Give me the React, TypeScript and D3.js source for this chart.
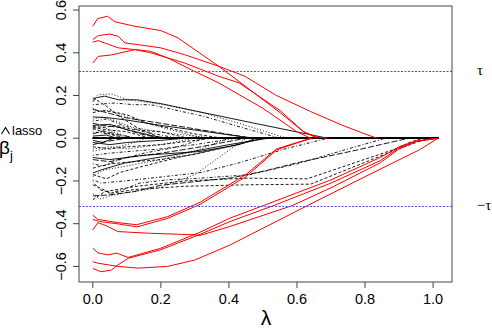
import * as d3 from "d3";
import { useEffect, useRef } from "react";

const W = 492;
const H = 328;
const LMAX = 1.015;
const xTicks = [0, 0.2, 0.4, 0.6, 0.8, 1.0];
const yTicks = [-0.6, -0.4, -0.2, 0, 0.2, 0.4, 0.6];
const tau = 0.316;

// selected coefficients (red): [lambda, beta] knots
const redPaths = [
  [[0, 0.524], [0.014, 0.56], [0.043, 0.571], [0.065, 0.545], [0.124, 0.524], [0.2, 0.504], [0.25, 0.47], [0.37, 0.337], [0.447, 0.245], [0.55, 0.12], [0.62, 0.03], [0.66, 0.005], [0.69, 0]],
  [[0, 0.462], [0.016, 0.48], [0.05, 0.488], [0.075, 0.477], [0.094, 0.446], [0.133, 0.438], [0.2, 0.423], [0.27, 0.391], [0.37, 0.337], [0.447, 0.29], [0.54, 0.2], [0.64, 0.125], [0.73, 0.063], [0.8, 0.02], [0.835, 0]],
  [[0, 0.45], [0.016, 0.457], [0.035, 0.446], [0.075, 0.423], [0.124, 0.415], [0.17, 0.4], [0.27, 0.352], [0.37, 0.29], [0.43, 0.259], [0.55, 0.13], [0.62, 0.03], [0.66, 0]],
  [[0, 0.352], [0.016, 0.383], [0.055, 0.39], [0.124, 0.415], [0.17, 0.407], [0.22, 0.376], [0.29, 0.32], [0.37, 0.259], [0.5, 0.14], [0.6, 0.03], [0.64, 0]],
  [[0, -0.36], [0.015, -0.38], [0.074, -0.395], [0.128, -0.405], [0.22, -0.367], [0.315, -0.3], [0.45, -0.17], [0.54, -0.05], [0.6, -0.02], [0.64, 0]],
  [[0, -0.38], [0.02, -0.39], [0.07, -0.4], [0.13, -0.415], [0.22, -0.375], [0.315, -0.31], [0.45, -0.18], [0.54, -0.055], [0.6, -0.022], [0.645, 0]],
  [[0, -0.43], [0.015, -0.395], [0.04, -0.41], [0.074, -0.437], [0.17, -0.445], [0.3, -0.452], [0.315, -0.455], [0.403, -0.413], [0.585, -0.316], [0.7, -0.232], [0.845, -0.115], [0.9, -0.05], [0.95, -0.016], [1.015, 0]],
  [[0, -0.515], [0.015, -0.537], [0.044, -0.546], [0.07, -0.538], [0.104, -0.558], [0.2, -0.515], [0.315, -0.44], [0.403, -0.374], [0.5, -0.316], [0.7, -0.195], [0.845, -0.09], [0.9, -0.04], [0.95, -0.012], [1.015, 0]],
  [[0, -0.61], [0.025, -0.625], [0.055, -0.617], [0.074, -0.593], [0.104, -0.562], [0.2, -0.522], [0.315, -0.45], [0.403, -0.39], [0.53, -0.316], [0.7, -0.21], [0.845, -0.105], [0.9, -0.045], [0.95, -0.014], [1.015, 0]],
  [[0, -0.578], [0.015, -0.585], [0.074, -0.6], [0.133, -0.608], [0.22, -0.6], [0.3, -0.57], [0.403, -0.5], [0.63, -0.316], [0.8, -0.18], [0.96, -0.054], [1.015, 0]],
];

// the other coefficients (black), with their line type
const blackPaths = [
  { lty: "solid", pts: [[0, 0.17], [0.01, 0.19], [0.035, 0.197], [0.075, 0.18], [0.13, 0.18], [0.2, 0.162], [0.315, 0.123], [0.5, 0.062], [0.69, 0]] },
  { lty: "dotted", pts: [[0, 0.18], [0.015, 0.204], [0.055, 0.207], [0.104, 0.18], [0.21, 0.157], [0.32, 0.12], [0.43, 0.07], [0.57, 0]] },
  { lty: "dotdash", pts: [[0, 0.157], [0.065, 0.165], [0.12, 0.157], [0.17, 0.157], [0.32, 0.105], [0.45, 0.045], [0.55, 0]] },
  { lty: "dashed", pts: [[0, 0.19], [0.04, 0.15], [0.08, 0.1], [0.13, 0.05], [0.2, 0]] },
  { lty: "longdash", pts: [[0, 0.135], [0.04, 0.12], [0.1, 0.095], [0.2, 0.07], [0.315, 0.04], [0.47, 0]] },
  { lty: "dotted", pts: [[0, 0.14], [0.02, 0.125], [0.05, 0.13], [0.1, 0.1], [0.18, 0.06], [0.3, 0.01], [0.33, 0]] },
  { lty: "solid", pts: [[0, 0.1], [0.05, 0.095], [0.1, 0.085], [0.2, 0.06], [0.315, 0.035], [0.47, 0]] },
  { lty: "dashed", pts: [[0, 0.12], [0.03, 0.13], [0.07, 0.12], [0.1, 0.11], [0.16, 0.07], [0.3, 0.02], [0.38, 0]] },
  { lty: "dotdash", pts: [[0, 0.08], [0.04, 0.09], [0.09, 0.06], [0.15, 0.03], [0.25, 0]] },
  { lty: "longdash", pts: [[0, 0.07], [0.03, 0.06], [0.08, 0.05], [0.14, 0.02], [0.2, 0]] },
  { lty: "solid", pts: [[0, 0.06], [0.05, 0.065], [0.1, 0.04], [0.18, 0.01], [0.22, 0]] },
  { lty: "dashed", pts: [[0, 0.05], [0.04, 0.04], [0.1, 0.03], [0.17, 0]] },
  { lty: "dotted", pts: [[0, 0.04], [0.02, 0.06], [0.06, 0.03], [0.12, 0]] },
  { lty: "dotdash", pts: [[0, 0.03], [0.05, 0.02], [0.09, 0]] },
  { lty: "longdash", pts: [[0, 0.02], [0.03, 0.035], [0.08, 0.015], [0.13, 0]] },
  { lty: "solid", pts: [[0, 0.01], [0.04, 0.015], [0.07, 0]] },
  { lty: "dashed", pts: [[0, 0.055], [0.03, 0.05], [0.07, 0.06], [0.12, 0.04], [0.2, 0.03], [0.28, 0]] },
  { lty: "dotted", pts: [[0, 0.09], [0.03, 0.1], [0.07, 0.08], [0.12, 0.05], [0.24, 0.02], [0.36, 0]] },
  { lty: "dashed", pts: [[0, 0.045], [0.05, 0.02], [0.1, 0]] },
  { lty: "solid", pts: [[0, -0.02], [0.05, -0.03], [0.1, -0.02], [0.2, -0.01], [0.27, 0]] },
  { lty: "dashed", pts: [[0, -0.04], [0.05, -0.05], [0.1, -0.04], [0.2, -0.03], [0.35, 0]] },
  { lty: "dotted", pts: [[0, -0.06], [0.04, -0.05], [0.1, -0.03], [0.16, 0]] },
  { lty: "dotdash", pts: [[0, -0.08], [0.05, -0.07], [0.12, -0.06], [0.2, -0.05], [0.3, -0.03], [0.42, 0]] },
  { lty: "longdash", pts: [[0, -0.1], [0.05, -0.11], [0.1, -0.09], [0.2, -0.07], [0.3, -0.045], [0.45, 0]] },
  { lty: "solid", pts: [[0, -0.163], [0.025, -0.148], [0.094, -0.116], [0.27, -0.069], [0.4, -0.03], [0.516, 0]] },
  { lty: "dashed", pts: [[0, -0.14], [0.05, -0.12], [0.12, -0.11], [0.2, -0.1], [0.3, -0.075], [0.5, 0]] },
  { lty: "solid", pts: [[0, -0.09], [0.05, -0.1], [0.15, -0.08], [0.315, -0.062], [0.43, -0.03], [0.48, 0]] },
  { lty: "dotted", pts: [[0, -0.18], [0.03, -0.15], [0.1, -0.13], [0.2, -0.1], [0.3, -0.06], [0.4, 0]] },
  { lty: "dashed", pts: [[0, -0.17], [0.04, -0.19], [0.08, -0.16], [0.15, -0.13], [0.25, -0.09], [0.4, -0.04], [0.5, 0]] },
  { lty: "solid", pts: [[0, -0.01], [0.03, -0.02], [0.06, 0]] },
  { lty: "longdash", pts: [[0, -0.03], [0.04, -0.015], [0.1, 0]] },
  { lty: "dotted", pts: [[0, -0.05], [0.05, -0.04], [0.1, -0.05], [0.2, -0.03], [0.3, 0]] },
  { lty: "dotdash", pts: [[0, -0.12], [0.03, -0.13], [0.08, -0.1], [0.15, -0.07], [0.25, -0.04], [0.33, 0]] },
  { lty: "dotdash", pts: [[0, -0.195], [0.025, -0.21], [0.124, -0.195], [0.32, -0.16], [0.43, -0.115], [0.565, -0.05], [0.69, 0]] },
  { lty: "dashed", pts: [[0, -0.288], [0.035, -0.25], [0.124, -0.226], [0.27, -0.2], [0.45, -0.187], [0.63, -0.19], [0.89, -0.05], [0.93, -0.02], [0.97, 0]] },
  { lty: "dashed", pts: [[0, -0.218], [0.055, -0.257], [0.124, -0.24], [0.27, -0.225], [0.45, -0.218], [0.64, -0.215], [0.89, -0.055], [0.95, -0.02], [0.99, 0]] },
  { lty: "longdash", pts: [[0, -0.27], [0.05, -0.265], [0.12, -0.25], [0.2, -0.22], [0.32, -0.2], [0.41, -0.185], [0.5, -0.155], [0.6, -0.115], [0.78, -0.054], [0.9, -0.01], [0.93, 0]] },
  { lty: "dotted", pts: [[0, -0.26], [0.02, -0.285], [0.05, -0.27], [0.1, -0.255], [0.2, -0.23], [0.3, -0.17], [0.45, 0]] },
  { lty: "dotdash", pts: [[0, -0.2025], [0.02, -0.24], [0.05, -0.257], [0.09, -0.24], [0.138, -0.21], [0.217, -0.195], [0.315, -0.187], [0.46, -0.171], [0.6, -0.12], [0.75, -0.05], [0.86, 0]] },
];

// coefficients that never leave zero
const inactive = ["solid", "dashed", "dotted", "dotdash", "longdash", "solid"];

const dash = {
  solid: null,
  dashed: "3,2",
  dotted: "1,2",
  dotdash: "1,2,3,2",
  longdash: "6,2",
};

const font = "'Liberation Sans', Arial, Helvetica, sans-serif";

export default function App() {
  const svgRef = useRef(null);

  useEffect(() => {
    const svg = d3.select(svgRef.current);
    svg.selectAll("*").remove();

    const x = d3.scaleLinear().domain([-0.0406, 1.0556]).range([79, 452]);
    const y = d3.scaleLinear().domain([-0.673, 0.619]).range([282, 6]);

    const line = d3.line().x((d) => x(d[0])).y((d) => y(d[1]));
    // after a coefficient hits zero it stays there up to lambda max
    const withTail = (pts) => (pts[pts.length - 1][0] < LMAX ? [...pts, [LMAX, 0]] : pts);

    svg.append("defs").append("clipPath").attr("id", "plotclip")
      .append("rect").attr("x", 79).attr("y", 6).attr("width", 373).attr("height", 276);

    const g = svg.append("g").attr("clip-path", "url(#plotclip)");

    g.append("g").selectAll("path")
      .data(inactive)
      .join("path")
      .attr("d", () => line([[0, 0], [LMAX, 0]]))
      .attr("fill", "none")
      .attr("stroke", "#000")
      .attr("stroke-width", 1.3)
      .attr("stroke-dasharray", (d) => dash[d]);

    g.append("g").selectAll("path")
      .data(blackPaths)
      .join("path")
      .attr("d", (d) => line(withTail(d.pts)))
      .attr("fill", "none")
      .attr("stroke", "#000")
      .attr("stroke-width", 0.9)
      .attr("stroke-dasharray", (d) => dash[d.lty]);

    // red paths stop where they reach zero, so the zero line stays black
    g.append("g").selectAll("path")
      .data(redPaths)
      .join("path")
      .attr("d", (d) => line(d))
      .attr("fill", "none")
      .attr("stroke", "#ff0000")
      .attr("stroke-width", 1);

    // tau reference lines
    [tau, -tau].forEach((t) => {
      svg.append("path")
        .attr("d", `M79,${Math.round(y(t)) + 0.5}H452`)
        .attr("fill", "none")
        .attr("stroke", "#4a4aff")
        .attr("stroke-width", 1)
        .attr("stroke-dasharray", "2,1.5");
    });

    // box
    svg.append("rect")
      .attr("x", 79).attr("y", 6).attr("width", 373).attr("height", 276)
      .attr("fill", "none").attr("stroke", "#444").attr("stroke-width", 1);

    // x axis
    const xa = svg.append("g");
    xa.selectAll("line")
      .data(xTicks)
      .join("line")
      .attr("x1", (d) => x(d)).attr("x2", (d) => x(d))
      .attr("y1", 282).attr("y2", 288)
      .attr("stroke", "#444");
    xa.selectAll("text")
      .data(xTicks)
      .join("text")
      .attr("x", (d) => x(d))
      .attr("y", 304)
      .attr("text-anchor", "middle")
      .style("font-family", font)
      .style("font-size", "14.5px")
      .text((d) => d.toFixed(1));

    // y axis
    const ya = svg.append("g");
    ya.selectAll("line")
      .data(yTicks)
      .join("line")
      .attr("x1", 73).attr("x2", 79)
      .attr("y1", (d) => y(d)).attr("y2", (d) => y(d))
      .attr("stroke", "#444");
    ya.selectAll("text")
      .data(yTicks)
      .join("text")
      .attr("transform", (d) => `translate(66,${y(d)}) rotate(-90)`)
      .attr("text-anchor", "middle")
      .style("font-family", font)
      .style("font-size", "14.5px")
      .text((d) => (d < 0 ? "\u2212" : "") + Math.abs(d).toFixed(1));

    // axis titles
    svg.append("text")
      .attr("x", 266).attr("y", 325)
      .attr("text-anchor", "middle")
      .style("font-family", font)
      .style("font-size", "21px")
      .text("λ");

    const yl = svg.append("g").style("font-family", font);
    yl.append("text").attr("x", -1).attr("y", 154).style("font-size", "19px").text("β");
    yl.append("path")
      .attr("d", "M1.5,134 L5.5,127.5 L9.5,134")
      .attr("fill", "none").attr("stroke", "#000").attr("stroke-width", 1.1);
    yl.append("text").attr("x", 10).attr("y", 160).style("font-size", "13px").text("j");
    yl.append("text").attr("x", 12).attr("y", 135).style("font-size", "13px").text("lasso");

    svg.append("text")
      .attr("x", 480).attr("y", y(tau) + 4)
      .attr("text-anchor", "middle")
      .style("font-family", "'Liberation Serif', serif")
      .style("font-size", "15px")
      .text("τ");
    svg.append("text")
      .attr("x", 484).attr("y", y(-tau) + 4)
      .attr("text-anchor", "middle")
      .style("font-family", "'Liberation Serif', serif")
      .style("font-size", "15px")
      .text("\u2212τ");
  }, []);

  return (
    <svg
      ref={svgRef}
      width={W}
      height={H}
      style={{ position: "absolute", left: 0, top: 0, background: "#fff" }}
    />
  );
}
